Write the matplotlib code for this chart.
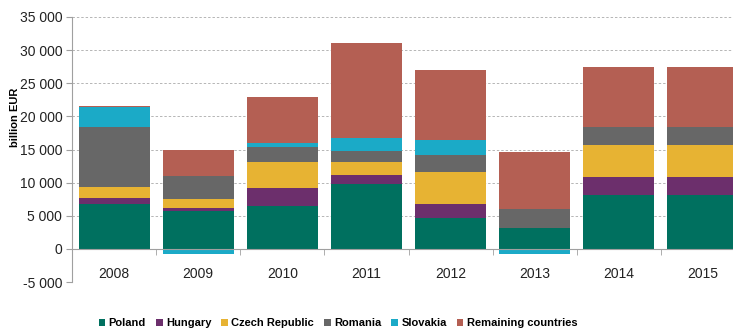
import numpy as np
import matplotlib
matplotlib.use("Agg")
import matplotlib.pyplot as plt
from matplotlib.ticker import FuncFormatter

plt.rcParams["font.family"] = ["Liberation Sans", "DejaVu Sans"]

years = ["2008", "2009", "2010", "2011", "2012", "2013", "2014", "2015"]
countries = ["Poland", "Hungary", "Czech Republic", "Romania", "Slovakia",
             "Remaining countries"]

poland = [6700, 5700, 6400, 9800, 4600, 3100, 8100, 8100]
hungary = [1050, 450, 2850, 1400, 2100, 0, 2700, 2700]
czech = [1550, 1400, 3850, 1900, 4850, -200, 4900, 4900]
romania = [9050, 3500, 2300, 1650, 2600, 2900, 2700, 2700]
slovakia = [3000, -750, 600, 2050, 2350, -550, 0, 0]
remaining = [200, 3950, 6900, 14250, 10450, 8650, 9050, 9050]

colors = ["#00705F", "#6C2F6C", "#E7B333", "#676767", "#1BAAC7", "#B45F53"]

series = [poland, hungary, czech, romania, slovakia, remaining]

fig = plt.figure(figsize=(7.33, 3.3), dpi=100)
ax = fig.add_axes([72 / 733, 48 / 330, 673 / 733, 265 / 330])

x = np.arange(len(years))
pos_base = np.zeros(len(years))
neg_base = np.zeros(len(years))
handles = []
for name, vals, col in zip(countries, series, colors):
    v = np.array(vals, dtype=float)
    base = np.where(v >= 0, pos_base, neg_base)
    b = ax.bar(x, v, width=0.845, bottom=base, color=col, label=name,
               zorder=3, linewidth=0)
    handles.append(b)
    pos_base = pos_base + np.where(v > 0, v, 0)
    neg_base = neg_base + np.where(v < 0, v, 0)

ax.set_xlim(-0.5, len(years) - 0.5)
ax.set_ylim(-5000, 35000)
ax.set_yticks(np.arange(-5000, 35001, 5000))
ax.yaxis.set_major_formatter(
    FuncFormatter(lambda v, p: f"{int(v):,}".replace(",", " ")))
ax.yaxis.grid(True, linestyle=(0, (2.5, 2)), color="#b5b5b5", linewidth=0.7,
              zorder=0)

for s in ["top", "right"]:
    ax.spines[s].set_visible(False)
ax.spines["left"].set_color("#a0a0a0")
ax.spines["bottom"].set_color("#a0a0a0")
ax.spines["bottom"].set_position(("data", 0))
ax.spines["bottom"].set_zorder(4)

ax.set_xticks(x)
ax.set_xticklabels(years)
ax.set_xticks(np.arange(-0.5, len(years), 1.0), minor=True)
ax.tick_params(axis="x", which="major", length=0, pad=13, labelsize=10,
               colors="#222222")
ax.tick_params(axis="x", which="minor", length=4, color="#a0a0a0",
               direction="out")
ax.tick_params(axis="y", length=4, color="#a0a0a0", labelsize=10,
               colors="#222222", pad=3)

ax.set_ylabel("billion EUR", fontsize=8, fontweight="bold", labelpad=8)
ax.yaxis.set_label_coords(-0.078, 0.62)

fig.legend(handles=handles, labels=countries, loc="center",
           bbox_to_anchor=(338 / 733, 1 - 323 / 330), ncol=6, frameon=False,
           prop={"weight": "bold", "size": 8}, handlelength=0.6,
           handleheight=0.6, handletextpad=0.3, columnspacing=0.9)

fig.savefig("out.png", dpi=100)
